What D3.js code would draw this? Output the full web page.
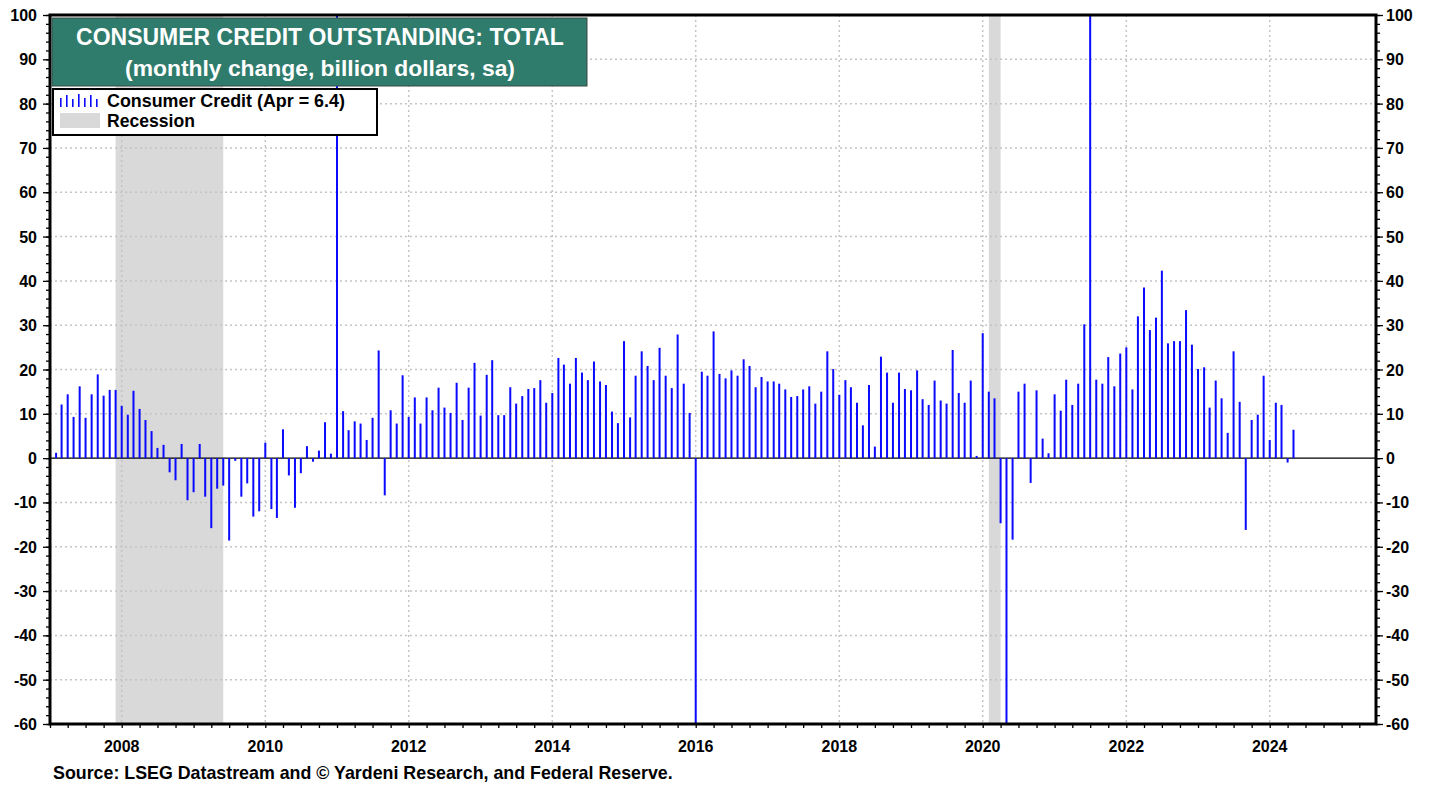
<!DOCTYPE html>
<html>
<head>
  <meta charset="UTF-8">
  <style>
    body { margin: 0; background: #fff; }
    svg { display: block; font-family: "Liberation Sans", Arial, sans-serif; font-weight: bold; }
  </style>
</head>
<body>
  <script src="https://cdn.jsdelivr.net/npm/d3@7"></script>
  <script>
    // monthly change in consumer credit, billion $, from Jan 2007
    var startYear = 2007;
    var credit = [
      1.2, 12.1, 14.4, 9.3, 16.2, 9.1, 14.4, 18.9, 14.1, 15.4, 15.4, 11.8,      // 2007
      9.8, 15.2, 11.1, 8.6, 6.1, 2.3, 3.0, -3.2, -5.0, 3.2, -9.5, -7.7,         // 2008
      3.2, -8.7, -15.8, -6.9, -6.2, -18.6, -0.6, -8.7, -5.7, -13.2, -12.0, 3.5, // 2009
      -11.5, -13.5, 6.5, -3.9, -11.2, -3.4, 2.7, -0.8, 1.7, 8.1, 1.0, 110,      // 2010
      10.6, 6.3, 8.3, 7.8, 4.1, 9.1, 24.3, -8.4, 10.8, 7.8, 18.7, 9.3,          // 2011
      13.7, 7.8, 13.7, 10.8, 15.9, 11.4, 10.2, 17.0, 8.6, 15.9, 21.5, 9.6,      // 2012
      18.8, 22.1, 9.7, 9.7, 16.0, 12.3, 14.0, 15.6, 15.8, 17.6, 12.5, 14.7,     // 2013
      22.6, 21.1, 16.8, 22.6, 19.3, 17.6, 21.8, 17.3, 16.5, 10.5, 7.9, 26.4,    // 2014
      9.2, 18.6, 24.1, 20.8, 17.6, 24.9, 18.6, 15.8, 27.9, 16.8, 10.2, -95,     // 2015
      19.5, 18.6, 28.6, 19.0, 18.0, 19.8, 18.6, 22.3, 20.8, 16.0, 18.3, 17.3,   // 2016
      17.3, 16.8, 15.5, 13.8, 14.0, 15.5, 16.2, 12.3, 15.0, 24.1, 20.1, 14.3,   // 2017
      17.6, 16.0, 12.5, 7.4, 16.5, 2.6, 22.9, 19.3, 12.5, 19.3, 15.6, 15.3,     // 2018
      19.8, 13.3, 12.0, 17.5, 13.0, 12.3, 24.4, 14.7, 12.5, 17.5, 0.5, 28.2,    // 2019
      15.0, 13.5, -14.7, -70, -18.4, 15.0, 16.8, -5.6, 15.3, 4.4, 1.1, 14.4,    // 2020
      10.7, 17.7, 12.0, 16.8, 30.2, 110, 17.7, 16.8, 22.8, 16.2, 23.6, 25.0,    // 2021
      15.5, 32.0, 38.5, 28.9, 31.7, 42.3, 25.9, 26.4, 26.4, 33.4, 25.6, 20.1,   // 2022
      20.5, 11.4, 17.5, 13.5, 5.7, 24.1, 12.7, -16.2, 8.6, 9.8, 18.6, 4.1,      // 2023
      12.5, 12.0, -1.0, 6.4                                                     // 2024
    ];
    var recessions = [["2007-12-01", "2009-06-01"], ["2020-02-01", "2020-04-01"]];
    var yTicks = [-60, -50, -40, -30, -20, -10, 0, 10, 20, 30, 40, 50, 60, 70, 80, 90, 100];
    var yearLabels = [2008, 2010, 2012, 2014, 2016, 2018, 2020, 2022, 2024];
    var titleLines = ["CONSUMER CREDIT OUTSTANDING: TOTAL", "(monthly change, billion dollars, sa)"];
    var legendLabels = ["Consumer Credit (Apr = 6.4)", "Recession"];
    var sourceText = "Source: LSEG Datastream and \u00a9 Yardeni Research, and Federal Reserve.";

    var W = 1438, H = 787;
    var pL = 50, pR = 1376, pT = 15, pB = 724;
    var blue = "#0a0aff", gridCol = "#c4c4c4", recCol = "#d9d9d9";

    var svg = d3.select("body").append("svg").attr("width", W).attr("height", H);

    var x = d3.scaleTime()
      .domain([new Date(2007, 0, 1), new Date(2025, 5, 25)])
      .range([pL, pR]);
    var y = d3.scaleLinear().domain([-60, 100]).range([pB, pT]);

    svg.append("clipPath").attr("id", "plot")
      .append("rect").attr("x", pL).attr("y", pT)
      .attr("width", pR - pL).attr("height", pB - pT);

    // recession bands
    svg.append("g").selectAll("rect").data(recessions).join("rect")
      .attr("x", function(d) { return x(new Date(d[0])); })
      .attr("width", function(d) { return x(new Date(d[1])) - x(new Date(d[0])); })
      .attr("y", pT).attr("height", pB - pT)
      .attr("fill", recCol);

    // grid
    var grid = svg.append("g").attr("stroke", gridCol).attr("stroke-width", 1.5)
      .attr("stroke-dasharray", "2,3");
    grid.selectAll(".h").data(yTicks.filter(function(d) { return d != 0 && d != 100 && d != -60; }))
      .join("line").attr("class", "h")
      .attr("x1", pL).attr("x2", pR)
      .attr("y1", function(d) { return y(d); }).attr("y2", function(d) { return y(d); });
    grid.selectAll(".v").data(yearLabels).join("line").attr("class", "v")
      .attr("x1", function(d) { return x(new Date(d, 0, 1)); })
      .attr("x2", function(d) { return x(new Date(d, 0, 1)); })
      .attr("y1", pT).attr("y2", pB);

    // zero line
    svg.append("line").attr("x1", pL).attr("x2", pR)
      .attr("y1", y(0)).attr("y2", y(0)).attr("stroke", "#000").attr("stroke-width", 1.2);

    // bars, plotted at month end
    svg.append("g").attr("clip-path", "url(#plot)")
      .selectAll("rect").data(credit).join("rect")
      .attr("x", function(d, i) { return x(new Date(startYear, i + 1, 1)) - 1; })
      .attr("width", 2)
      .attr("y", function(d) { return y(Math.max(0, d)); })
      .attr("height", function(d) { return Math.abs(y(d) - y(0)); })
      .attr("fill", blue);

    // axes
    var minor = d3.range(-60, 101, 2);
    svg.append("g").attr("transform", "translate(" + pL + ",0)")
      .call(d3.axisLeft(y).tickValues(minor).tickSize(4).tickFormat(""));
    svg.append("g").attr("transform", "translate(" + pR + ",0)")
      .call(d3.axisRight(y).tickValues(minor).tickSize(4).tickFormat(""));
    svg.append("g").attr("transform", "translate(" + pL + ",0)")
      .call(d3.axisLeft(y).tickValues(yTicks).tickSize(7).tickFormat(""));
    svg.append("g").attr("transform", "translate(" + pR + ",0)")
      .call(d3.axisRight(y).tickValues(yTicks).tickSize(7).tickFormat(""));
    svg.append("g").attr("transform", "translate(0," + pB + ")")
      .call(d3.axisBottom(x).ticks(d3.timeMonth.every(3)).tickSize(4).tickFormat(""));
    svg.selectAll(".domain").remove();
    svg.selectAll(".tick line").attr("stroke", "#000").attr("stroke-width", 1.3);

    // frame
    svg.append("rect").attr("x", pL).attr("y", pT)
      .attr("width", pR - pL).attr("height", pB - pT)
      .attr("fill", "none").attr("stroke", "#000").attr("stroke-width", 3);

    // tick labels
    svg.append("g").selectAll("text").data(yTicks).join("text")
      .attr("x", 37).attr("y", function(d) { return y(d) + 6; })
      .attr("text-anchor", "end").attr("font-size", 16).text(function(d) { return d; });
    svg.append("g").selectAll("text").data(yTicks).join("text")
      .attr("x", 1386).attr("y", function(d) { return y(d) + 6; })
      .attr("font-size", 16).text(function(d) { return d; });
    svg.append("g").selectAll("text").data(yearLabels).join("text")
      .attr("x", function(d) { return x(new Date(d, 0, 1)); }).attr("y", 752)
      .attr("text-anchor", "middle").attr("font-size", 16).text(function(d) { return d; });

    function fit(sel, w) {
      var len = sel.node().getComputedTextLength();
      var fs = parseFloat(sel.attr("font-size"));
      sel.attr("font-size", fs * w / len);
    }

    var src = svg.append("text").attr("x", 53).attr("y", 779).attr("font-size", 15).text(sourceText);
    fit(src, 620);

    // title box
    svg.append("rect").attr("x", 52).attr("y", 18).attr("width", 535).attr("height", 68)
      .attr("fill", "#2f7b6c").attr("stroke", "#3a4a45").attr("stroke-width", 1);
    var t1 = svg.append("text").attr("x", 320).attr("y", 45).attr("text-anchor", "middle")
      .attr("fill", "#fff").attr("font-size", 21).text(titleLines[0]);
    fit(t1, 488);
    var t2 = svg.append("text").attr("x", 320).attr("y", 76).attr("text-anchor", "middle")
      .attr("fill", "#fff").attr("font-size", 21).text(titleLines[1]);
    fit(t2, 390);

    // legend
    svg.append("rect").attr("x", 53).attr("y", 89).attr("width", 324).attr("height", 46)
      .attr("fill", "#fff").attr("stroke", "#000").attr("stroke-width", 2);
    var icon = [9, 12, 8, 13, 9, 12, 8];
    svg.append("g").selectAll("rect").data(icon).join("rect")
      .attr("x", function(d, i) { return 60 + i * 6; }).attr("width", 1.6)
      .attr("y", function(d) { return 107 - d; }).attr("height", function(d) { return d; })
      .attr("fill", blue);
    svg.append("rect").attr("x", 60).attr("y", 113).attr("width", 40).attr("height", 15).attr("fill", recCol);
    var l1 = svg.append("text").attr("x", 107).attr("y", 107).attr("font-size", 16).text(legendLabels[0]);
    fit(l1, 238);
    var l2 = svg.append("text").attr("x", 107).attr("y", 127).attr("font-size", 16).text(legendLabels[1]);
    fit(l2, 88);
  </script>
</body>
</html>
